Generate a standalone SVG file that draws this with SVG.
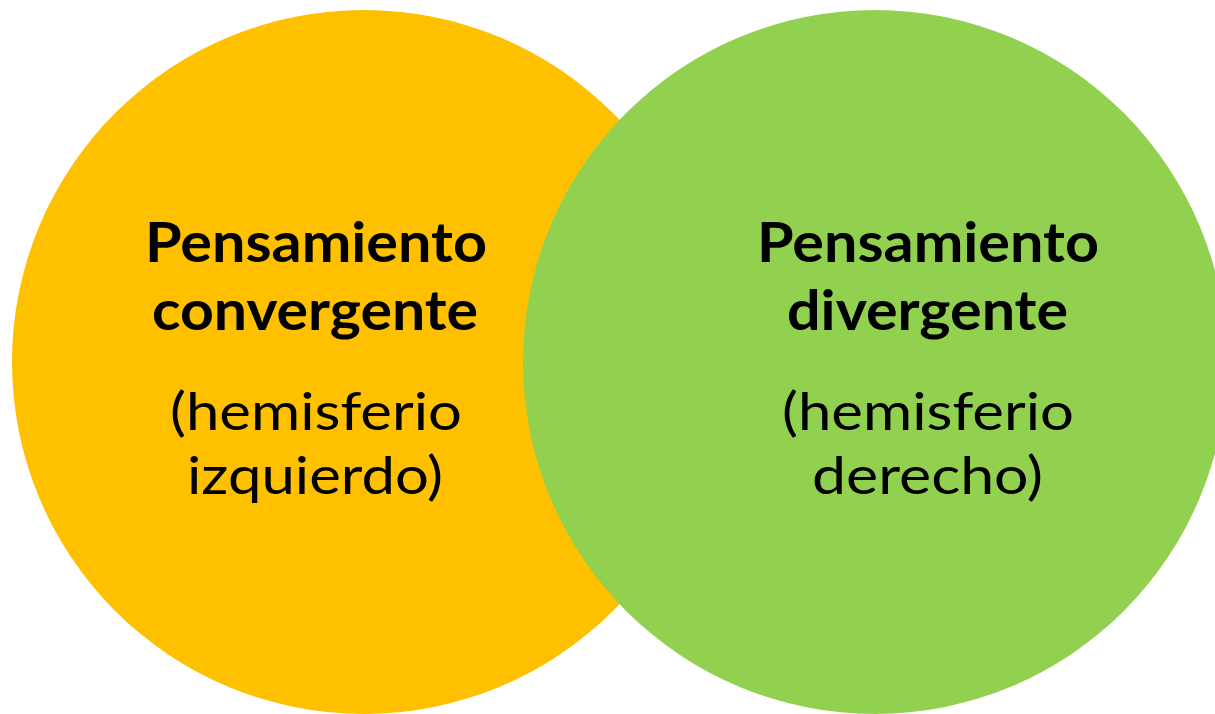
<svg xmlns="http://www.w3.org/2000/svg" width="1215" height="714" viewBox="0 0 1215 714">
<style>
.b{font-family:Lato,"Open Sans","Liberation Sans",sans-serif;font-weight:bold;font-size:55px;fill:#000;text-anchor:middle}
.r{font-family:Lato,"Open Sans","Liberation Sans",sans-serif;font-size:53px;fill:#000;text-anchor:middle}
</style>
<rect width="1215" height="714" fill="#fff"/>
<g id="convergente">
<circle cx="364" cy="362" r="352" fill="#FFC000"/>
<text class="b" x="316" y="262" textLength="342" lengthAdjust="spacingAndGlyphs">Pensamiento</text>
<text class="b" x="315" y="330" textLength="326" lengthAdjust="spacingAndGlyphs">convergente</text>
<text class="r" x="316" y="430" textLength="292" lengthAdjust="spacingAndGlyphs">(hemisferio</text>
<text class="r" x="315" y="494" textLength="256" lengthAdjust="spacingAndGlyphs">izquierdo)</text>
</g>
<g id="divergente">
<circle cx="875" cy="362" r="352" fill="#92D050"/>
<text class="b" x="928" y="262" textLength="342" lengthAdjust="spacingAndGlyphs">Pensamiento</text>
<text class="b" x="927.5" y="330" textLength="281" lengthAdjust="spacingAndGlyphs">divergente</text>
<text class="r" x="928" y="430" textLength="292" lengthAdjust="spacingAndGlyphs">(hemisferio</text>
<text class="r" x="927.5" y="494" textLength="231" lengthAdjust="spacingAndGlyphs">derecho)</text>
</g>
<g id="connectors"/>
</svg>
